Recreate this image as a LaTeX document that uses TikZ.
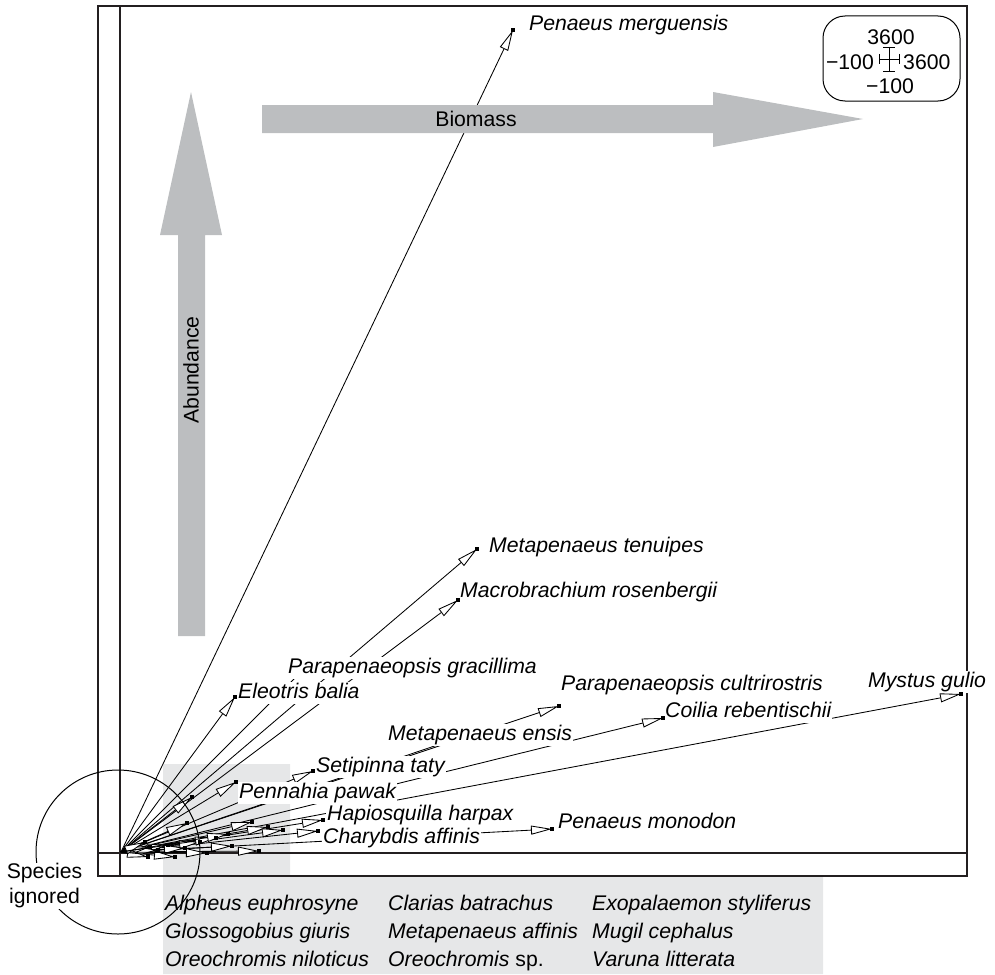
\documentclass[tikz,border=0pt]{standalone}
\usepackage{fontspec}
\setmainfont{Liberation Sans}
\usetikzlibrary{arrows.meta}
\definecolor{bgray}{HTML}{E6E7E8}
\definecolor{agray}{HTML}{BCBEC0}
\definecolor{framec}{HTML}{231F20}
\newcommand{\lblfont}{\fontsize{21.2}{25}\selectfont}
\begin{document}
\begin{tikzpicture}[x=1pt,y=-1pt,
  sparrow/.style={line width=0.85pt,-{Triangle[length=21pt,width=9pt,fill=white,line width=0.85pt]}},
  endsq/.style={rectangle,fill=black,inner sep=0pt,minimum size=3.4pt},
  splabel/.style={font=\lblfont\itshape,fill=white,inner sep=1pt,text height=15.5pt,text depth=4.5pt,anchor=base west},
  botlabel/.style={font=\lblfont\itshape,inner sep=0pt,anchor=base west},
  plaintext/.style={font=\lblfont,inner sep=0pt},
  framel/.style={draw=framec,line width=1.2pt}
]
\useasboundingbox (0,0) rectangle (995,974);
% light gray region of ignored species
\fill[bgray] (163,764) -- (290,764) -- (290,876) -- (823,876) -- (823,974) -- (163,974) -- cycle;
% frame and axes
\draw[framel] (98,6) rectangle (967,876);
\draw[framel] (120,6) -- (120,876);
\draw[framel] (98,853) -- (967,853);
% origin and arrow ends
\coordinate (O) at (121,852);
\coordinate (eMer) at (513,30);
\coordinate (eTen) at (477,549);
\coordinate (eRos) at (458,600);
\coordinate (eGra) at (315,658);
\coordinate (eEle) at (235,697);
\coordinate (eCul) at (559,706);
\coordinate (eCoi) at (663,718);
\coordinate (eMys) at (961,694);
\coordinate (eEns) at (470,734);
\coordinate (eSet) at (313,771);
\coordinate (ePen) at (236,782);
\coordinate (eHap) at (323,820);
\coordinate (eCha) at (318,831);
\coordinate (eMon) at (552,829);
\coordinate (u1) at (192,797);
\coordinate (u2) at (187,823);
\coordinate (u3) at (252,822);
\coordinate (u4) at (268,827);
\coordinate (u5) at (283,830);
\coordinate (u6) at (232,846);
\coordinate (u7) at (259,851);
\coordinate (u8) at (200,842);
\coordinate (u9) at (185,848);
\coordinate (u10) at (168,845);
\coordinate (u11) at (158,850);
\coordinate (u12) at (150,847);
\coordinate (u13) at (148,857);
\coordinate (u14) at (175,857);
\coordinate (u15) at (207,853);
\coordinate (u16) at (145,842);
\coordinate (u17) at (216,838);
\coordinate (u18) at (228,834);
\foreach \e in {eMer,eTen,eRos,eGra,eEle,eCul,eCoi,eMys,eEns,eSet,ePen,eHap,eCha,eMon,u1,u2,u3,u4,u5,u6,u7,u8,u9,u10,u11,u12,u13,u14,u15,u16,u17,u18}
  \draw[sparrow] (O) -- (\e);
% big gray arrows
\fill[agray] (262,105) -- (713,105) -- (713,92) -- (863,119) -- (713,147) -- (713,133) -- (262,133) -- cycle;
\node[plaintext] (biomass) at (476,119) {Biomass};
\fill[agray] (178,636) -- (178,235) -- (160,235) -- (191,92) -- (222,235) -- (205,235) -- (205,636) -- cycle;
\node[plaintext,rotate=90] (abund) at (191,370) {Abundance};
% species labels
\node[splabel] (lMer) at (528,31) {Penaeus merguensis};
\node[splabel] (lTen) at (488,552) {Metapenaeus tenuipes};
\node[splabel] (lRos) at (459,597) {Macrobrachium rosenbergii};
\node[splabel] (lGra) at (287,673) {Parapenaeopsis gracillima};
\node[splabel] (lEle) at (237,698) {Eleotris balia};
\node[splabel] (lCul) at (560,690) {Parapenaeopsis cultrirostris};
\node[splabel] (lCoi) at (664,717) {Coilia rebentischii};
\node[splabel] (lMys) at (867,687) {Mystus gulio};
\node[splabel] (lEns) at (387,740) {Metapenaeus ensis};
\node[splabel] (lSet) at (315,772) {Setipinna taty};
\node[splabel] (lPen) at (238,798) {Pennahia pawak};
\node[splabel] (lHap) at (326,820) {Hapiosquilla harpax};
\node[splabel] (lCha) at (322,843) {Charybdis affinis};
\node[splabel] (lMon) at (557,828) {Penaeus monodon};
% end squares
\foreach \e in {eMer,eTen,eRos,eEle,eCul,eCoi,eMys,eSet,ePen,eHap,eCha,eMon,u1,u2,u3,u4,u5,u6,u7,u8,u9,u10,u11,u12,u13,u14,u15,u16,u17,u18}
  \node[endsq] (sq\e) at (\e) {};
% scale legend
\node[draw=black,line width=1pt,rounded corners=22pt,minimum width=137pt,minimum height=85pt,inner sep=0pt] (legend) at (891.5,58.5) {};
\node[plaintext,anchor=base] (lgTop) at (891,45) {3600};
\node[plaintext,anchor=base east] (lgLeft) at (874,70) {−100};
\node[plaintext,anchor=base west] (lgRight) at (903,70) {3600};
\node[plaintext,anchor=base] (lgBot) at (890,93) {−100};
\draw[line width=0.9pt] (879,59) -- (899,59) (879,54) -- (879,64) (899,54) -- (899,64)
  (889,47) -- (889,71) (883,47) -- (895,47) (883,71) -- (895,71);
% species ignored
\node[draw=black,line width=1pt,circle,minimum size=164pt,inner sep=0pt] (ignc) at (118,852) {};
\node[plaintext,fill=white,align=center,inner sep=1pt] (ignl) at (44.5,886) {Species\\ignored};
% ignored species list
\node[botlabel] (b11) at (165,910) {Alpheus euphrosyne};
\node[botlabel] (b12) at (165,938) {Glossogobius giuris};
\node[botlabel] (b13) at (165,966) {Oreochromis niloticus};
\node[botlabel] (b21) at (388,910) {Clarias batrachus};
\node[botlabel] (b22) at (388,938) {Metapenaeus affinis};
\node[botlabel] (b23) at (388,966) {Oreochromis \upshape sp.};
\node[botlabel] (b31) at (592,910) {Exopalaemon styliferus};
\node[botlabel] (b32) at (592,938) {Mugil cephalus};
\node[botlabel] (b33) at (592,966) {Varuna litterata};
\end{tikzpicture}
\end{document}
